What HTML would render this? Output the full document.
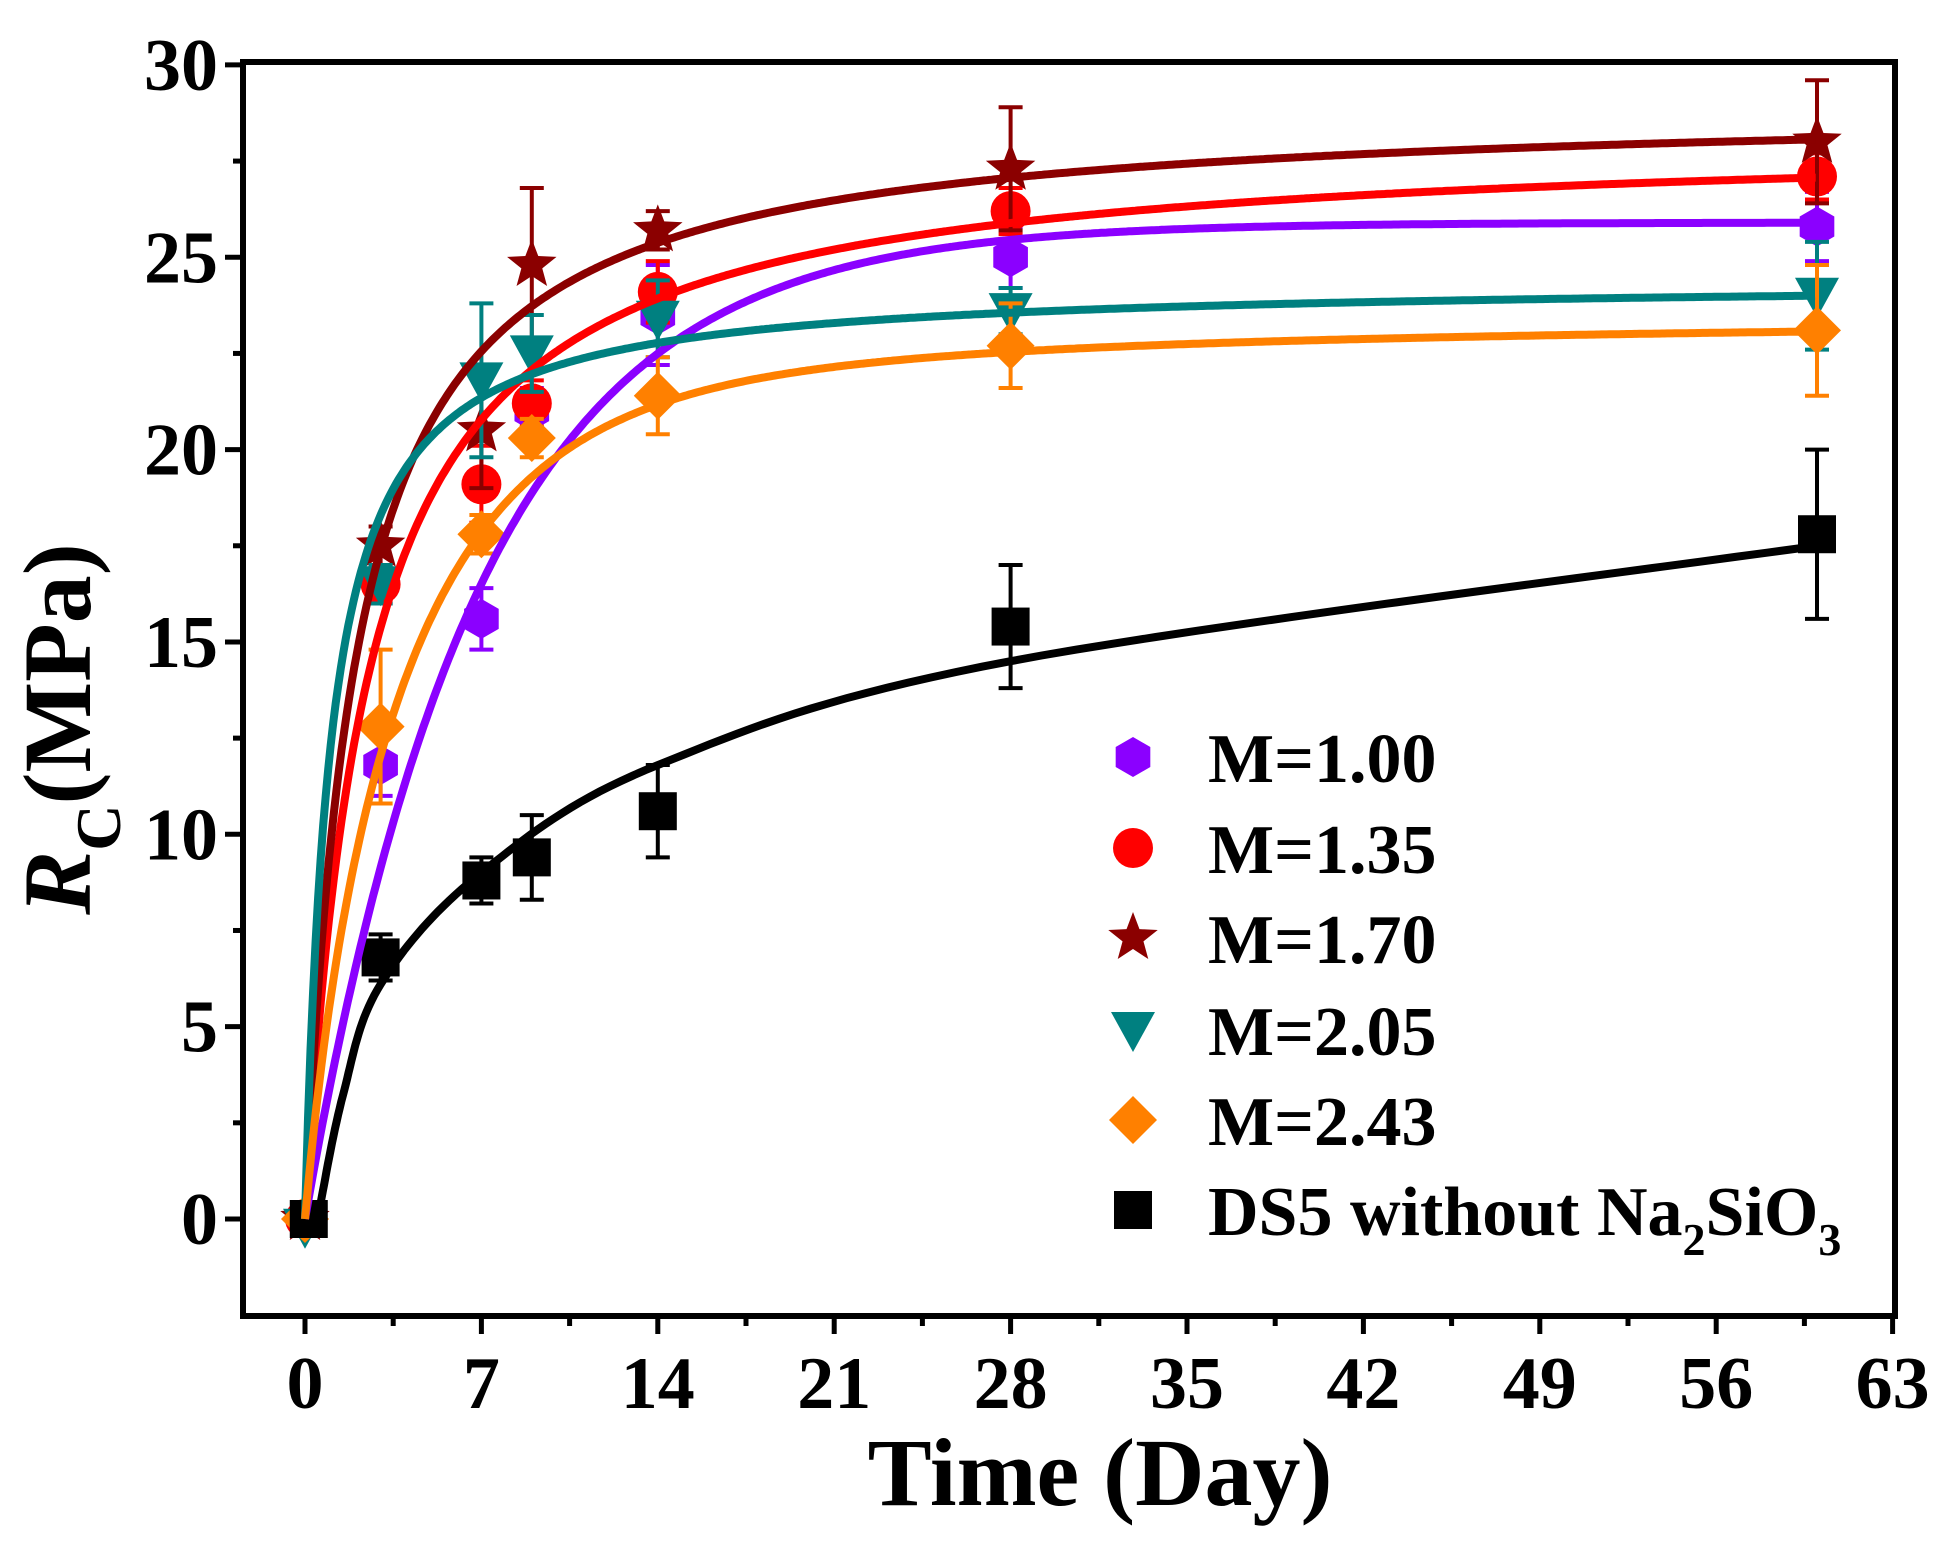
<!DOCTYPE html>
<html><head><meta charset="utf-8"><style>body{margin:0;background:#fff}svg{display:block}</style></head>
<body>
<svg id="s" width="1959" height="1555" viewBox="0 0 1959 1555" xmlns="http://www.w3.org/2000/svg" font-family="'Liberation Serif',serif" font-weight="bold"></svg>
<script>
const s=document.getElementById('s');
const X=t=>305+t*25.2, Y=v=>1219-v*38.47;
let h='';
for(let i=0;i<=18;i++){const t=i*3.5,x=X(t),L=i%2?10:18;h+=`<line x1="${x}" y1="1316" x2="${x}" y2="${1316+L}" stroke="#000" stroke-width="5"/>`;}
for(let i=0;i<=13;i++){const v=-2.5+i*2.5;if(v<-2.4)continue;const y=Y(v),L=(v%5===0)?18:10;h+=`<line x1="243" y1="${y}" x2="${243-L}" y2="${y}" stroke="#000" stroke-width="5"/>`;}
for(let t=0;t<=63;t+=7)h+=`<text x="${X(t)}" y="1408" font-size="74" text-anchor="middle">${t}</text>`;
for(let v=0;v<=30;v+=5)h+=`<text x="218" y="${Y(v)+25}" font-size="74" text-anchor="end">${v}</text>`;
h+=`<text x="1100" y="1505" font-size="96" text-anchor="middle">Time (Day)</text>`;
h+=`<text transform="translate(90,729) rotate(-90)" font-size="96" text-anchor="middle"><tspan font-style="italic">R</tspan><tspan font-size="64" dy="30">C</tspan><tspan dy="-30">(MPa)</tspan></text>`;
function spline(P){let out=[];for(let i=0;i<P.length-1;i++){const p0=P[Math.max(0,i-1)],p1=P[i],p2=P[i+1],p3=P[Math.min(P.length-1,i+2)];for(let k=0;k<20;k++){const u=k/20,u2=u*u,u3=u2*u;const f=(a,b,c,d)=>0.5*(2*b+(-a+c)*u+(2*a-5*b+4*c-d)*u2+(-a+3*b-3*c+d)*u3);out.push([f(p0[0],p1[0],p2[0],p3[0]),f(p0[1],p1[1],p2[1],p3[1])]);}}out.push(P[P.length-1]);return out;}
const S=[
 {c:'#8b00ff',m:'hex',f:t=>25.9*(1-Math.exp(-t/6.9)),t0:0.3,d:[[0,0,0],[3,11.8,.8],[7,15.6,.8],[9,21,.6],[14,23.5,1.3],[28,25,.8],[60,25.8,.9]]},
 {c:'#ff0000',m:'circ',f:t=>28.2*t/(2.5+t),t0:0.05,d:[[0,0,0],[3,16.5,.5],[7,19.1,1],[9,21.2,.6],[14,24.1,.8],[28,26.2,.6],[60,27.1,.6]]},
 {c:'#8b0000',m:'star',f:t=>29*t/(2+t),t0:0.05,d:[[0,0,0],[3,17.5,.5],[7,20.5,1.5],[9,24.8,2],[14,25.7,.5],[28,27.3,1.6],[60,28,1.6]]},
 {c:'#008080',m:'tri',f:t=>24.4*t/(1.0+t),t0:0.02,d:[[0,-0.2,0],[3,16.5,.5],[7,21.8,2],[9,22.5,1],[14,23.4,1],[28,23.6,.6],[60,24,1.4]]},
 {c:'#ff8000',m:'dia',f:t=>(24*t/(2.5+t)+23.1*(1-Math.exp(-t/4.63)))/2,t0:0.05,d:[[0,0,0],[3,12.8,2],[7,17.8,.5],[9,20.3,.5],[14,21.4,1],[28,22.7,1.1],[60,23.1,1.7]]},
 {c:'#000000',m:'sq',sp:[[0.5,0],[1.5,3.2],[3,6.1],[7,9],[14,11.8],[28,14.5],[60,17.5]],d:[[0.15,0,0],[3,6.8,.6],[7,8.8,.6],[9,9.4,1.1],[14,10.6,1.2],[28,15.4,1.6],[60,17.8,2.2]]}
];
function mk(m,x,y,c){
 if(m=='hex'){let p=[];for(let k=0;k<6;k++){const a=Math.PI/6+k*Math.PI/3;p.push((x+20*Math.cos(a))+','+(y+20*Math.sin(a)));}return `<polygon points="${p.join(' ')}" fill="${c}"/>`;}
 if(m=='circ')return `<circle cx="${x}" cy="${y}" r="20" fill="${c}"/>`;
 if(m=='star'){let p=[];for(let k=0;k<10;k++){const a=-Math.PI/2+k*Math.PI/5,r=k%2?11:26;p.push((x+r*Math.cos(a))+','+(y+r*Math.sin(a)));}return `<polygon points="${p.join(' ')}" fill="${c}"/>`;}
 if(m=='tri')return `<polygon points="${x-22},${y-18} ${x+22},${y-18} ${x},${y+22}" fill="${c}"/>`;
 if(m=='dia')return `<polygon points="${x},${y-24} ${x+24},${y} ${x},${y+24} ${x-24},${y}" fill="${c}"/>`;
 return `<rect x="${x-19}" y="${y-19}" width="38" height="38" fill="${c}"/>`;
}
let curves='',pts='';
S.forEach(o=>{
 let p=[];
 if(o.sp){spline(o.sp).forEach(q=>p.push(X(q[0]).toFixed(1)+','+Y(q[1]).toFixed(1)));}
 else{for(let t=o.t0;t<=60;t+=0.1)p.push(X(t).toFixed(1)+','+Y(Math.max(0,o.f(t))).toFixed(1));p.unshift(X(o.d[0][0])+','+Y(0));}
 curves+=`<polyline points="${p.join(' ')}" fill="none" stroke="${o.c}" stroke-width="8"/>`;
 o.d.forEach(([t,v,e])=>{const x=X(t),y=Y(v);if(e>0){pts+=`<line x1="${x}" y1="${Y(v+e)}" x2="${x}" y2="${Y(v-e)}" stroke="${o.c}" stroke-width="4"/><line x1="${x-12}" y1="${Y(v+e)}" x2="${x+12}" y2="${Y(v+e)}" stroke="${o.c}" stroke-width="4"/><line x1="${x-12}" y1="${Y(v-e)}" x2="${x+12}" y2="${Y(v-e)}" stroke="${o.c}" stroke-width="4"/>`;}pts+=mk(o.m,x,y,o.c);});
});
h+=pts+curves;
const lab=['M=1.00','M=1.35','M=1.70','M=2.05','M=2.43'],ly=[757,848,938,1030,1120,1210];
S.forEach((o,i)=>{h+=mk(o.m,1133,ly[i],o.c);});
lab.forEach((l,i)=>h+=`<text x="1208" y="${ly[i]+25}" font-size="70">${l}</text>`);
h+=`<text x="1208" y="${ly[5]+25}" font-size="70">DS5 without Na<tspan font-size="46" dy="20">2</tspan><tspan dy="-20">SiO</tspan><tspan font-size="46" dy="20">3</tspan></text>`;
h+=`<rect x="243" y="62" width="1652" height="1254" fill="none" stroke="#000" stroke-width="6"/>`;
s.innerHTML=h;
</script>
</body></html>
